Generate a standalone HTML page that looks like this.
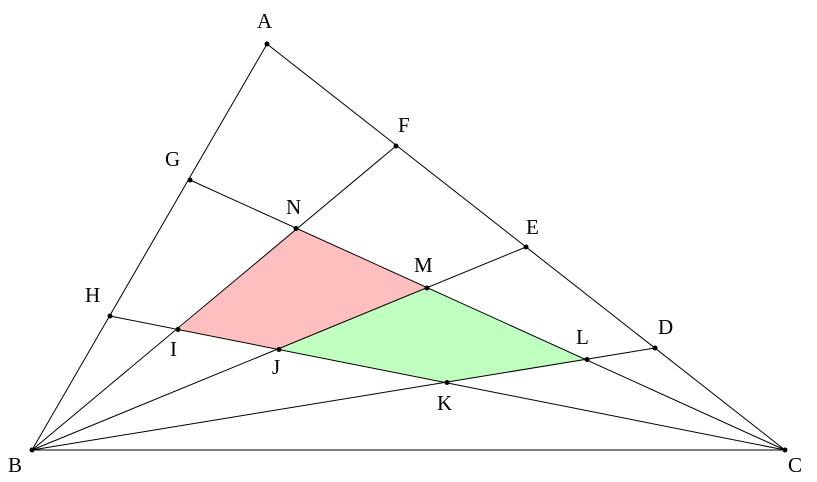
<!DOCTYPE html>
<html><head><meta charset="utf-8"><style>body{margin:0;background:#fff}svg{display:block}text{font-family:"Liberation Serif",serif;font-size:21px;fill:#000}</style></head>
<body>
<svg width="817" height="482" viewBox="0 0 817 482" xmlns="http://www.w3.org/2000/svg">
<polygon points="296,228.5 178,329.5 279,349.5 427,288" fill="#ffbfbf"/>
<polygon points="279,349.5 447,382.5 587,359.5 427,288" fill="#bfffbf"/>
<g stroke="#000" stroke-width="1" fill="none">
<polygon points="267,44 32,450 785,450"/>
<line x1="32" y1="450" x2="396" y2="146"/>
<line x1="32" y1="450" x2="526" y2="247"/>
<line x1="32" y1="450" x2="655" y2="348"/>
<line x1="785" y1="450" x2="190" y2="180"/>
<line x1="785" y1="450" x2="110" y2="316"/>
</g>
<g fill="#000">
<circle cx="267" cy="44" r="2.5"/><circle cx="32" cy="450" r="2.5"/><circle cx="785" cy="450" r="2.5"/>
<circle cx="396" cy="146" r="2.5"/><circle cx="526" cy="247" r="2.5"/><circle cx="655" cy="348" r="2.5"/>
<circle cx="190" cy="180" r="2.5"/><circle cx="110" cy="316" r="2.5"/>
<circle cx="296" cy="228.5" r="2.5"/><circle cx="427" cy="288" r="2.5"/><circle cx="178" cy="329.5" r="2.5"/>
<circle cx="279" cy="349.5" r="2.5"/><circle cx="447" cy="382.5" r="2.5"/><circle cx="587" cy="359.5" r="2.5"/>
</g>
<text x="257" y="28">A</text>
<text x="8" y="472">B</text>
<text x="788" y="472">C</text>
<text x="398" y="132">F</text>
<text x="526" y="234">E</text>
<text x="658" y="334">D</text>
<text x="165" y="166">G</text>
<text x="85" y="302">H</text>
<text x="286" y="214">N</text>
<text x="414" y="272">M</text>
<text x="170" y="356">I</text>
<text x="272" y="374">J</text>
<text x="437" y="410">K</text>
<text x="576" y="344">L</text>
</svg>
</body></html>
